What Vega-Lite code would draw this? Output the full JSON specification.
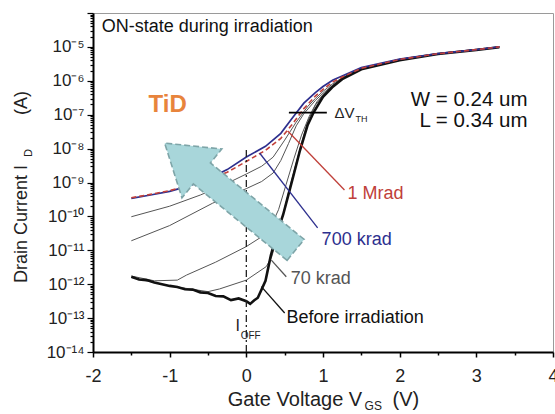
{
  "$schema": "https://vega.github.io/schema/vega-lite/v6.json",
  "width": 460,
  "height": 339,
  "autosize": "none",
  "padding": {"left": 93, "top": 13, "right": 2, "bottom": 62},
  "background": "white",
  "config": {"view": {"stroke": "#9a9a9a", "strokeWidth": 1}, "font": "Liberation Sans", "text": {"font": "Liberation Sans"}},
  "datasets": {
    "curves": [
      {"s": "before", "v": -1.5, "i": 1.66e-12}, {"s": "before", "v": -1.4, "i": 1.38e-12}, {"s": "before", "v": -1.3, "i": 1.32e-12}, {"s": "before", "v": -1.2, "i": 1.12e-12}, {"s": "before", "v": -1.1, "i": 1.0e-12}, {"s": "before", "v": -1.0, "i": 8.91e-13}, {"s": "before", "v": -0.9, "i": 8.32e-13}, {"s": "before", "v": -0.8, "i": 7.08e-13}, {"s": "before", "v": -0.7, "i": 6.92e-13}, {"s": "before", "v": -0.6, "i": 5.75e-13}, {"s": "before", "v": -0.5, "i": 5.5e-13}, {"s": "before", "v": -0.4, "i": 4.47e-13}, {"s": "before", "v": -0.3, "i": 4.37e-13}, {"s": "before", "v": -0.2, "i": 3.39e-13}, {"s": "before", "v": -0.1, "i": 3.8e-13}, {"s": "before", "v": 0, "i": 3.16e-13}, {"s": "before", "v": 0.05, "i": 2.63e-13}, {"s": "before", "v": 0.1, "i": 3.31e-13}, {"s": "before", "v": 0.15, "i": 3.98e-13}, {"s": "before", "v": 0.2, "i": 7.08e-13}, {"s": "before", "v": 0.25, "i": 1.26e-12}, {"s": "before", "v": 0.32, "i": 7.08e-12}, {"s": "before", "v": 0.4, "i": 3.16e-11}, {"s": "before", "v": 0.48, "i": 1.12e-10}, {"s": "before", "v": 0.55, "i": 4.47e-10}, {"s": "before", "v": 0.62, "i": 1.78e-9}, {"s": "before", "v": 0.7, "i": 8.91e-9}, {"s": "before", "v": 0.8, "i": 5.01e-8}, {"s": "before", "v": 0.88, "i": 1.2e-7}, {"s": "before", "v": 1.0, "i": 3.39e-7}, {"s": "before", "v": 1.12, "i": 6.46e-7}, {"s": "before", "v": 1.25, "i": 1.12e-6}, {"s": "before", "v": 1.5, "i": 2.19e-6}, {"s": "before", "v": 2.0, "i": 4.07e-6}, {"s": "before", "v": 2.5, "i": 6.17e-6}, {"s": "before", "v": 3.0, "i": 8.13e-6}, {"s": "before", "v": 3.3, "i": 9.77e-6},
      {"s": "g1", "v": -1.5, "i": 9.77e-11}, {"s": "g1", "v": -1.0, "i": 2.0e-10}, {"s": "g1", "v": -0.6, "i": 4.27e-10}, {"s": "g1", "v": -0.3, "i": 8.32e-10}, {"s": "g1", "v": 0, "i": 1.78e-9}, {"s": "g1", "v": 0.2, "i": 3.02e-9}, {"s": "g1", "v": 0.35, "i": 5.62e-9}, {"s": "g1", "v": 0.5, "i": 1.78e-8}, {"s": "g1", "v": 0.65, "i": 6.03e-8}, {"s": "g1", "v": 0.8, "i": 1.74e-7}, {"s": "g1", "v": 0.9, "i": 3.02e-7}, {"s": "g1", "v": 1.0, "i": 4.9e-7}, {"s": "g1", "v": 1.12, "i": 7.94e-7}, {"s": "g1", "v": 1.25, "i": 1.23e-6}, {"s": "g1", "v": 1.5, "i": 2.29e-6}, {"s": "g1", "v": 2.0, "i": 4.27e-6}, {"s": "g1", "v": 2.5, "i": 6.31e-6}, {"s": "g1", "v": 3.0, "i": 8.32e-6}, {"s": "g1", "v": 3.3, "i": 1.0e-5},
      {"s": "g2", "v": -1.5, "i": 1.91e-11}, {"s": "g2", "v": -1.0, "i": 5.37e-11}, {"s": "g2", "v": -0.44, "i": 2.45e-10}, {"s": "g2", "v": 0, "i": 6.61e-10}, {"s": "g2", "v": 0.2, "i": 1.07e-9}, {"s": "g2", "v": 0.35, "i": 1.91e-9}, {"s": "g2", "v": 0.45, "i": 4.47e-9}, {"s": "g2", "v": 0.55, "i": 1.41e-8}, {"s": "g2", "v": 0.65, "i": 4.68e-8}, {"s": "g2", "v": 0.75, "i": 1.07e-7}, {"s": "g2", "v": 0.9, "i": 2.63e-7}, {"s": "g2", "v": 1.0, "i": 4.27e-7}, {"s": "g2", "v": 1.12, "i": 7.24e-7}, {"s": "g2", "v": 1.25, "i": 1.17e-6}, {"s": "g2", "v": 1.5, "i": 2.26e-6}, {"s": "g2", "v": 2.0, "i": 4.27e-6}, {"s": "g2", "v": 2.5, "i": 6.31e-6}, {"s": "g2", "v": 3.0, "i": 8.32e-6}, {"s": "g2", "v": 3.3, "i": 1.0e-5},
      {"s": "g3", "v": -1.5, "i": 1.74e-12}, {"s": "g3", "v": -1.2, "i": 1.26e-12}, {"s": "g3", "v": -0.9, "i": 1.32e-12}, {"s": "g3", "v": -0.78, "i": 1.86e-12}, {"s": "g3", "v": -0.4, "i": 4.47e-12}, {"s": "g3", "v": 0, "i": 1.29e-11}, {"s": "g3", "v": 0.2, "i": 2.51e-11}, {"s": "g3", "v": 0.32, "i": 5.01e-11}, {"s": "g3", "v": 0.42, "i": 1.58e-10}, {"s": "g3", "v": 0.52, "i": 8.91e-10}, {"s": "g3", "v": 0.62, "i": 5.01e-9}, {"s": "g3", "v": 0.72, "i": 2.51e-8}, {"s": "g3", "v": 0.82, "i": 8.91e-8}, {"s": "g3", "v": 0.92, "i": 2.4e-7}, {"s": "g3", "v": 1.02, "i": 4.37e-7}, {"s": "g3", "v": 1.12, "i": 7.08e-7}, {"s": "g3", "v": 1.25, "i": 1.17e-6}, {"s": "g3", "v": 1.5, "i": 2.26e-6}, {"s": "g3", "v": 2.0, "i": 4.27e-6}, {"s": "g3", "v": 2.5, "i": 6.31e-6}, {"s": "g3", "v": 3.0, "i": 8.32e-6}, {"s": "g3", "v": 3.3, "i": 1.0e-5},
      {"s": "g4", "v": -1.5, "i": 1.58e-12}, {"s": "g4", "v": -1.0, "i": 8.91e-13}, {"s": "g4", "v": -0.5, "i": 6.03e-13}, {"s": "g4", "v": -0.35, "i": 7.24e-13}, {"s": "g4", "v": 0, "i": 1.32e-12}, {"s": "g4", "v": 0.26, "i": 3.31e-12}, {"s": "g4", "v": 0.33, "i": 6.31e-12}, {"s": "g4", "v": 0.42, "i": 3.16e-11}, {"s": "g4", "v": 0.5, "i": 1.78e-10}, {"s": "g4", "v": 0.6, "i": 1.41e-9}, {"s": "g4", "v": 0.7, "i": 1.0e-8}, {"s": "g4", "v": 0.8, "i": 6.31e-8}, {"s": "g4", "v": 0.9, "i": 1.91e-7}, {"s": "g4", "v": 1.0, "i": 3.72e-7}, {"s": "g4", "v": 1.12, "i": 6.76e-7}, {"s": "g4", "v": 1.25, "i": 1.15e-6}, {"s": "g4", "v": 1.5, "i": 2.24e-6}, {"s": "g4", "v": 2.0, "i": 4.17e-6}, {"s": "g4", "v": 2.5, "i": 6.31e-6}, {"s": "g4", "v": 3.0, "i": 8.32e-6}, {"s": "g4", "v": 3.3, "i": 1.0e-5},
      {"s": "700 krad", "v": -1.5, "i": 3.39e-10}, {"s": "700 krad", "v": -1.25, "i": 4.27e-10}, {"s": "700 krad", "v": -1.0, "i": 5.5e-10}, {"s": "700 krad", "v": -0.75, "i": 7.94e-10}, {"s": "700 krad", "v": -0.5, "i": 1.26e-9}, {"s": "700 krad", "v": -0.25, "i": 2.4e-9}, {"s": "700 krad", "v": 0, "i": 5.62e-9}, {"s": "700 krad", "v": 0.25, "i": 1.17e-8}, {"s": "700 krad", "v": 0.45, "i": 2.82e-8}, {"s": "700 krad", "v": 0.6, "i": 7.94e-8}, {"s": "700 krad", "v": 0.75, "i": 2.19e-7}, {"s": "700 krad", "v": 0.9, "i": 4.47e-7}, {"s": "700 krad", "v": 1.0, "i": 6.76e-7}, {"s": "700 krad", "v": 1.13, "i": 1.05e-6}, {"s": "700 krad", "v": 1.25, "i": 1.38e-6}, {"s": "700 krad", "v": 1.5, "i": 2.45e-6}, {"s": "700 krad", "v": 2.0, "i": 4.37e-6}, {"s": "700 krad", "v": 2.5, "i": 6.31e-6}, {"s": "700 krad", "v": 3.0, "i": 8.32e-6}, {"s": "700 krad", "v": 3.3, "i": 1.0e-5},
      {"s": "1 Mrad", "v": -1.5, "i": 3.55e-10}, {"s": "1 Mrad", "v": -1.25, "i": 4.47e-10}, {"s": "1 Mrad", "v": -1.0, "i": 5.75e-10}, {"s": "1 Mrad", "v": -0.75, "i": 8.13e-10}, {"s": "1 Mrad", "v": -0.5, "i": 1.2e-9}, {"s": "1 Mrad", "v": -0.25, "i": 2.0e-9}, {"s": "1 Mrad", "v": 0, "i": 4.17e-9}, {"s": "1 Mrad", "v": 0.25, "i": 8.91e-9}, {"s": "1 Mrad", "v": 0.45, "i": 2.0e-8}, {"s": "1 Mrad", "v": 0.6, "i": 5.25e-8}, {"s": "1 Mrad", "v": 0.75, "i": 1.51e-7}, {"s": "1 Mrad", "v": 0.9, "i": 3.55e-7}, {"s": "1 Mrad", "v": 1.0, "i": 5.62e-7}, {"s": "1 Mrad", "v": 1.13, "i": 9.33e-7}, {"s": "1 Mrad", "v": 1.25, "i": 1.29e-6}, {"s": "1 Mrad", "v": 1.5, "i": 2.34e-6}, {"s": "1 Mrad", "v": 2.0, "i": 4.27e-6}, {"s": "1 Mrad", "v": 2.5, "i": 6.31e-6}, {"s": "1 Mrad", "v": 3.0, "i": 8.32e-6}, {"s": "1 Mrad", "v": 3.3, "i": 1.0e-5}
    ],
    "ioffline": [{"v": 0, "i": 9.12e-9, "i2": 1e-14}],
    "dvbar": [{"v": 0.555, "v2": 1.05, "i": 1.15e-7}],
    "arrow": [{"v": -0.211, "i": 3.86e-10}],
    "leaders": [
      {"k": "1 Mrad", "v": 0.54, "i": 3.31e-8, "v2": 1.28, "i2": 6.03e-10},
      {"k": "700 krad", "v": 0.173, "i": 7.41e-9, "v2": 0.93, "i2": 4.57e-11},
      {"k": "70 krad", "v": 0.326, "i": 5.13e-12, "v2": 0.521, "i2": 1.66e-12},
      {"k": "Before irradiation", "v": 0.196, "i": 8.51e-13, "v2": 0.5, "i2": 1.41e-13}
    ],
    "labels": [
      {"k": "1 Mrad", "v": 1.32, "i": 4.58e-10},
      {"k": "700 krad", "v": 0.982, "i": 2.01e-11},
      {"k": "70 krad", "v": 0.578, "i": 1.42e-12},
      {"k": "Before irradiation", "v": 0.525, "i": 1.01e-13}
    ],
    "heading": [{"t": "ON-state during irradiation", "v": -1.887, "i": 3.86e-5}],
    "dims": [{"t": "W = 0.24 um", "v": 3.667, "i": 2.72e-7}, {"t": "L = 0.34 um", "v": 3.667, "i": 6.52e-8}],
    "tid": [{"t": "TiD", "v": -1.026, "i": 1.93e-7}],
    "dv": [{"t": "ΔV", "v": 1.151, "i": 1.12e-7}],
    "dvsub": [{"t": "TH", "v": 1.425, "i": 7.46e-8}],
    "ioff": [{"t": "I", "v": -0.14, "i": 5.85e-14}],
    "ioffsub": [{"t": "OFF", "v": -0.074, "i": 2.96e-14}],
    "xtitle": [{"t": "Gate Voltage V", "v": -0.244, "i": 2.6e-16}, {"t": "(V)", "v": 1.907, "i": 2.6e-16}],
    "xtitlesub": [{"t": "GS", "v": 1.542, "i": 1.9e-16}],
    "ytitle": [{"t": "Drain Current  I", "v": -2.93, "i": 1.08e-12}, {"t": "(A)", "v": -2.93, "i": 9.79e-8}],
    "ytitlesub": [{"t": "D", "v": -2.838, "i": 5.65e-9}]
  },
  "encoding": {
    "x": {"field": "v", "type": "quantitative", "scale": {"domain": [-2, 4], "nice": false, "zero": false},
      "axis": {"title": null, "values": [-2, -1.5, -1, -0.5, 0, 0.5, 1, 1.5, 2, 2.5, 3, 3.5, 4],
        "labelExpr": "datum.value % 1 == 0 ? toString(datum.value) : ''",
        "tickSize": {"condition": {"test": "datum.value % 1 == 0", "value": 5}, "value": 3},
        "labelFontSize": 18, "labelFont": "Liberation Sans", "labelColor": "#222", "labelPadding": 10,
        "domainColor": "#000", "domainWidth": 2, "tickColor": "#000", "tickWidth": 1.5, "grid": false,
        "labelOverlap": false, "labelFlush": false, "labelBound": false}},
    "y": {"field": "i", "type": "quantitative", "scale": {"type": "log", "domain": [1e-14, 1e-4], "nice": false},
      "axis": {"title": null,
        "values": [1e-14,2e-14,3e-14,4e-14,5e-14,6e-14,7e-14,8e-14,9e-14,1e-13,2e-13,3e-13,4e-13,5e-13,6e-13,7e-13,8e-13,9e-13,1e-12,2e-12,3e-12,4e-12,5e-12,6e-12,7e-12,8e-12,9e-12,1e-11,2e-11,3e-11,4e-11,5e-11,6e-11,7e-11,8e-11,9e-11,1e-10,2e-10,3e-10,4e-10,5e-10,6e-10,7e-10,8e-10,9e-10,1e-9,2e-9,3e-9,4e-9,5e-9,6e-9,7e-9,8e-9,9e-9,1e-8,2e-8,3e-8,4e-8,5e-8,6e-8,7e-8,8e-8,9e-8,1e-7,2e-7,3e-7,4e-7,5e-7,6e-7,7e-7,8e-7,9e-7,1e-6,2e-6,3e-6,4e-6,5e-6,6e-6,7e-6,8e-6,9e-6,1e-5,2e-5,3e-5,4e-5,5e-5,6e-5,7e-5,8e-5,9e-5,1e-4],
        "labelExpr": "datum.value < 5e-5 && abs(log(datum.value)/LN10 - round(log(datum.value)/LN10)) < 0.001 ? '10⁻' + ((-round(log(datum.value)/LN10)) >= 10 ? '¹' : '') + substring('⁰¹²³⁴⁵⁶⁷⁸⁹', (-round(log(datum.value)/LN10)) % 10, (-round(log(datum.value)/LN10)) % 10 + 1) : ''",
        "tickSize": {"condition": {"test": "abs(log(datum.value)/LN10 - round(log(datum.value)/LN10)) < 0.001", "value": 6}, "value": 3},
        "labelFontSize": 17, "labelFont": "Liberation Sans", "labelColor": "#222", "labelPadding": 3,
        "domainColor": "#000", "domainWidth": 2, "tickColor": "#000", "tickWidth": 1.2, "grid": false,
        "labelOverlap": false, "labelFlush": false, "labelBound": false}}
  },
  "layer": [
    {
      "data": {"name": "curves"},
      "transform": [{"filter": "indexof(['g1','g2','g3','g4'], datum.s) >= 0"}],
      "mark": {"type": "line", "color": "#555555", "strokeWidth": 1},
      "encoding": {"detail": {"field": "s"}}
    },
    {
      "data": {"name": "curves"},
      "transform": [{"filter": "datum.s == 'before'"}],
      "mark": {"type": "line", "color": "#111111", "strokeWidth": 2.6}
    },
    {
      "data": {"name": "curves"},
      "transform": [{"filter": "datum.s == '700 krad'"}],
      "mark": {"type": "line", "color": "#2d2f8e", "strokeWidth": 1.7}
    },
    {
      "data": {"name": "curves"},
      "transform": [{"filter": "datum.s == '1 Mrad'"}],
      "mark": {"type": "line", "color": "#c2413b", "strokeWidth": 1.6, "strokeDash": [5, 3]}
    },
    {
      "data": {"name": "ioffline"},
      "mark": {"type": "rule", "color": "#222222", "strokeWidth": 1.3, "strokeDash": [7, 3, 2, 3]},
      "encoding": {"y2": {"field": "i2"}}
    },
    {
      "data": {"name": "arrow"},
      "mark": {"type": "point", "shape": "M -1 -0.16 L 0.432 -0.16 L 0.432 -0.373 L 1 0 L 0.432 0.373 L 0.432 0.16 L -1 0.16 Z", "size": 28561, "angle": 219.2, "filled": true, "fill": "#a8d6da", "fillOpacity": 1, "opacity": 1, "stroke": "#7ea5a8", "strokeWidth": 1.6, "strokeDash": [6, 3]}
    },
    {
      "data": {"name": "dvbar"},
      "mark": {"type": "rule", "color": "#000000", "strokeWidth": 1.8},
      "encoding": {"x2": {"field": "v2"}}
    },
    {
      "data": {"name": "leaders"},
      "mark": {"type": "rule", "strokeWidth": 1.3},
      "encoding": {"x2": {"field": "v2"}, "y2": {"field": "i2"},
        "color": {"field": "k", "type": "nominal", "legend": null, "scale": {"domain": ["1 Mrad", "700 krad", "70 krad", "Before irradiation"], "range": ["#c0403a", "#2d2f8e", "#555555", "#111111"]}}}
    },
    {
      "data": {"name": "labels"},
      "mark": {"type": "text", "align": "left", "baseline": "middle", "fontSize": 18, "font": "Liberation Sans"},
      "encoding": {"text": {"field": "k"}, "color": {"field": "k", "type": "nominal", "legend": null}}
    },
    {
      "data": {"name": "heading"},
      "mark": {"type": "text", "align": "left", "baseline": "middle", "fontSize": 18, "font": "Liberation Sans", "color": "#111111"},
      "encoding": {"text": {"field": "t"}}
    },
    {
      "data": {"name": "dims"},
      "mark": {"type": "text", "align": "right", "baseline": "middle", "fontSize": 20.5, "font": "Liberation Sans", "color": "#111111"},
      "encoding": {"text": {"field": "t"}}
    },
    {
      "data": {"name": "tid"},
      "mark": {"type": "text", "align": "center", "baseline": "middle", "fontSize": 24, "fontWeight": "bold", "font": "Liberation Sans", "color": "#e8843c"},
      "encoding": {"text": {"field": "t"}}
    },
    {
      "data": {"name": "dv"},
      "mark": {"type": "text", "align": "left", "baseline": "middle", "fontSize": 15, "font": "Liberation Sans", "color": "#222222"},
      "encoding": {"text": {"field": "t"}}
    },
    {
      "data": {"name": "dvsub"},
      "mark": {"type": "text", "align": "left", "baseline": "middle", "fontSize": 9, "font": "Liberation Sans", "color": "#222222"},
      "encoding": {"text": {"field": "t"}}
    },
    {
      "data": {"name": "ioff"},
      "mark": {"type": "text", "align": "left", "baseline": "middle", "fontSize": 16, "font": "Liberation Sans", "color": "#222222"},
      "encoding": {"text": {"field": "t"}}
    },
    {
      "data": {"name": "ioffsub"},
      "mark": {"type": "text", "align": "left", "baseline": "middle", "fontSize": 10, "font": "Liberation Sans", "color": "#222222"},
      "encoding": {"text": {"field": "t"}}
    },
    {
      "data": {"name": "xtitle"},
      "mark": {"type": "text", "align": "left", "baseline": "alphabetic", "fontSize": 20, "font": "Liberation Sans", "color": "#222222"},
      "encoding": {"text": {"field": "t"}}
    },
    {
      "data": {"name": "xtitlesub"},
      "mark": {"type": "text", "align": "left", "baseline": "alphabetic", "fontSize": 12, "font": "Liberation Sans", "color": "#222222"},
      "encoding": {"text": {"field": "t"}}
    },
    {
      "data": {"name": "ytitle"},
      "mark": {"type": "text", "align": "left", "baseline": "middle", "angle": 270, "fontSize": 18, "font": "Liberation Sans", "color": "#222222"},
      "encoding": {"text": {"field": "t"}}
    },
    {
      "data": {"name": "ytitlesub"},
      "mark": {"type": "text", "align": "left", "baseline": "middle", "angle": 270, "fontSize": 11, "font": "Liberation Sans", "color": "#222222"},
      "encoding": {"text": {"field": "t"}}
    }
  ]
}
